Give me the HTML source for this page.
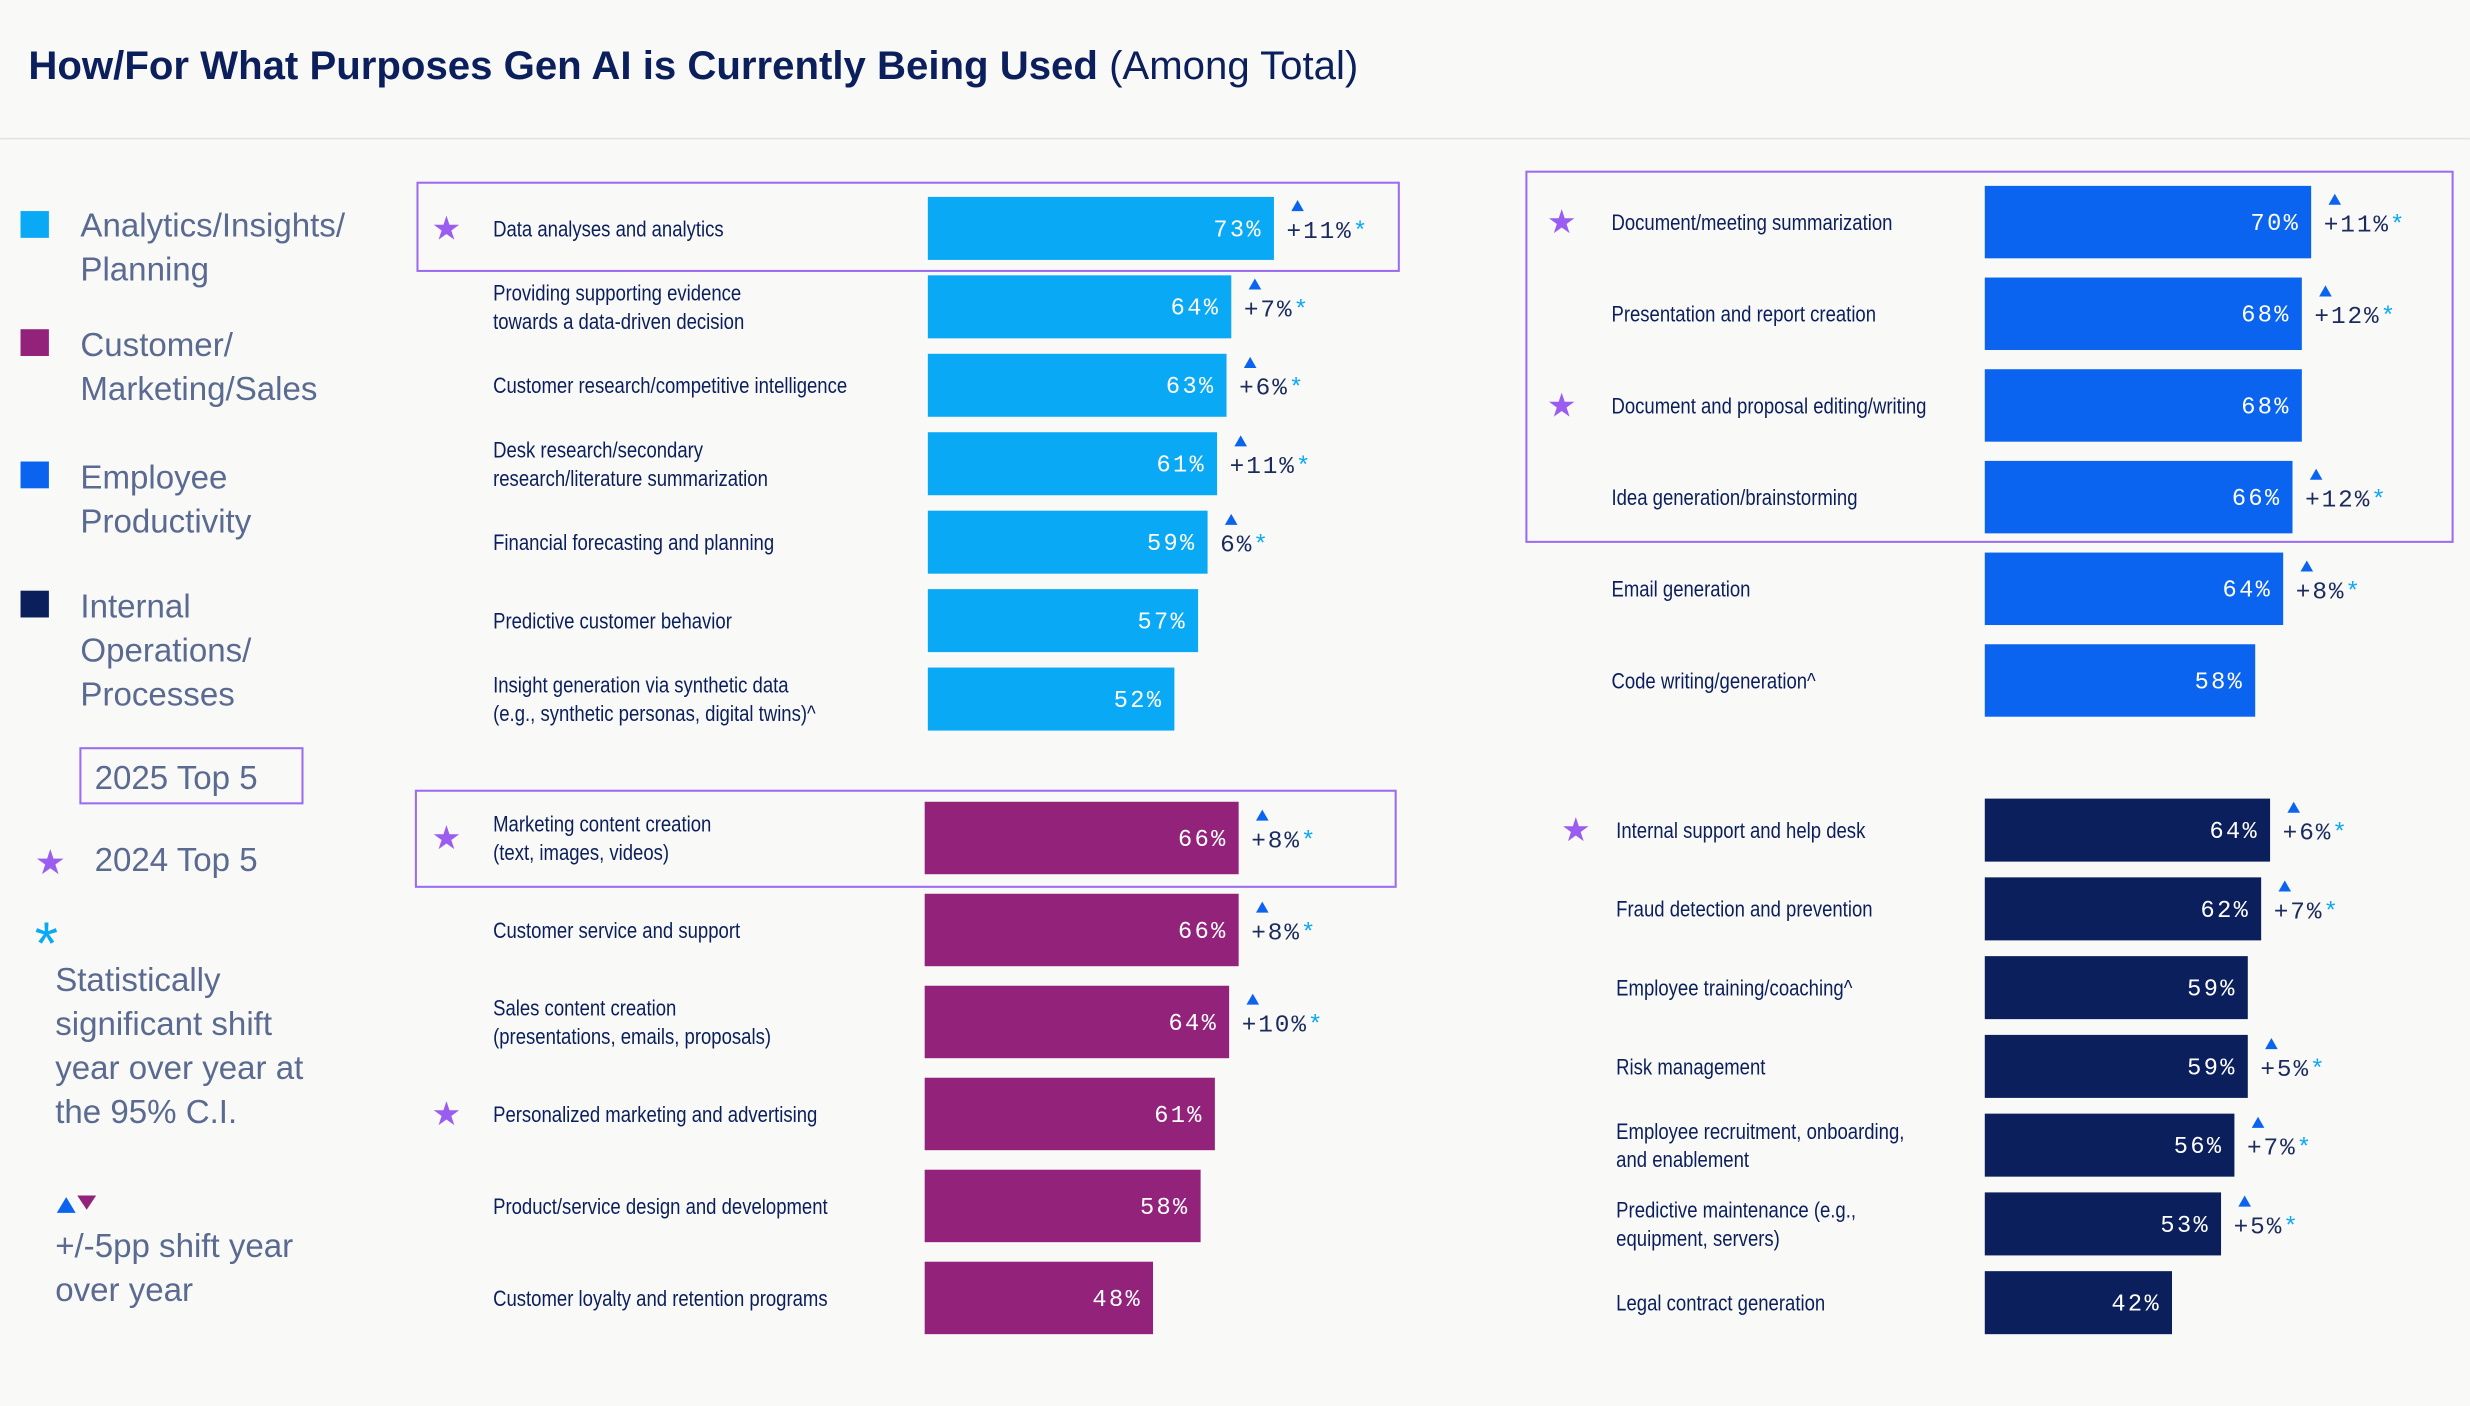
<!DOCTYPE html>
<html><head><meta charset="utf-8"><style>
html,body{margin:0;padding:0;background:#f9f9f7;}
svg{display:block;}
.lbl{font-family:"Liberation Sans",sans-serif;font-size:14px;fill:#0b1f5c;}
.val{font-family:"Liberation Mono",monospace;font-size:15px;fill:#fff;letter-spacing:1.5px;}
.dl{font-family:"Liberation Mono",monospace;font-size:15.5px;fill:#1c2b5e;letter-spacing:1.2px;}
.lg{font-family:"Liberation Sans",sans-serif;font-size:21px;fill:#5a6a90;}
</style></head><body>
<svg id="chart" width="2470" height="1406" viewBox="0 0 1568 892.6" xmlns="http://www.w3.org/2000/svg">
<rect x="0" y="0" width="1568" height="893" fill="#f9f9f7"/>
<text x="18" y="50" font-family="Liberation Sans, sans-serif" font-size="25.5" fill="#0b1f5c"><tspan font-weight="bold">How/For What Purposes Gen AI is Currently Being Used</tspan> (Among Total)</text>
<line x1="0" y1="88" x2="1568" y2="88" stroke="#e2e2e2" stroke-width="1"/>
<g>
<rect x="13" y="134" width="18" height="17" fill="#0aa9f5"/>
<text class="lg" x="51" y="150"><tspan x="51">Analytics/Insights/</tspan><tspan x="51" dy="28">Planning</tspan></text>
<rect x="13" y="209" width="18" height="17" fill="#93237a"/>
<text class="lg" x="51" y="226"><tspan x="51">Customer/</tspan><tspan x="51" dy="28">Marketing/Sales</tspan></text>
<rect x="13" y="293" width="18" height="17" fill="#0a64f0"/>
<text class="lg" x="51" y="310"><tspan x="51">Employee</tspan><tspan x="51" dy="28">Productivity</tspan></text>
<rect x="13" y="375" width="18" height="17" fill="#0b1f5c"/>
<text class="lg" x="51" y="392"><tspan x="51">Internal</tspan><tspan x="51" dy="28">Operations/</tspan><tspan x="51" dy="28">Processes</tspan></text>
<rect x="51" y="475" width="141" height="35" fill="none" stroke="#9b6cf0" stroke-width="1.3"/>
<text class="lg" x="60" y="501">2025 Top 5</text>
<text x="22" y="555" font-size="22" fill="#9b5cf0" font-family="DejaVu Sans, sans-serif">★</text>
<text class="lg" x="60" y="553">2024 Top 5</text>
<text x="22" y="612" font-size="38" fill="#0aa9f5" font-family="Liberation Sans, sans-serif">*</text>
<text class="lg" x="35" y="629"><tspan x="35">Statistically</tspan><tspan x="35" dy="28">significant shift</tspan><tspan x="35" dy="28">year over year at</tspan><tspan x="35" dy="28">the 95% C.I.</tspan></text>
<polygon points="36,770 42,760 48,770" fill="#0a64f0"/>
<polygon points="49,759 61,759 55,768" fill="#93237a"/>
<text class="lg" x="35" y="798"><tspan x="35">+/-5pp shift year</tspan><tspan x="35" dy="28">over year</tspan></text>
</g>
<rect x="265" y="116" width="623" height="56" fill="none" stroke="#9b6cf0" stroke-width="1.3"/>
<rect x="264" y="502" width="622" height="61" fill="none" stroke="#9b6cf0" stroke-width="1.3"/>
<rect x="969" y="109" width="588" height="235" fill="none" stroke="#9b6cf0" stroke-width="1.3"/>
<g id="bars"></g>
</svg>
<script>
const analyticsLabels=[["Data analyses and analytics"],["Providing supporting evidence","towards a data-driven decision"],["Customer research/competitive intelligence"],["Desk research/secondary","research/literature summarization"],["Financial forecasting and planning"],["Predictive customer behavior"],["Insight generation via synthetic data","(e.g., synthetic personas, digital twins)^"]];
const analyticsValues=[73,64,63,61,59,57,52];
const analyticsDeltas=["+11","+7","+6","+11","6","",""];
const analyticsStars=[1,0,0,0,0,0,0];

const marketingLabels=[["Marketing content creation","(text, images, videos)"],["Customer service and support"],["Sales content creation","(presentations, emails, proposals)"],["Personalized marketing and advertising"],["Product/service design and development"],["Customer loyalty and retention programs"]];
const marketingValues=[66,66,64,61,58,48];
const marketingDeltas=["+8","+8","+10","","",""];
const marketingStars=[1,0,0,1,0,0];

const productivityLabels=[["Document/meeting summarization"],["Presentation and report creation"],["Document and proposal editing/writing"],["Idea generation/brainstorming"],["Email generation"],["Code writing/generation^"]];
const productivityValues=[70,68,68,66,64,58];
const productivityDeltas=["+11","+12","","+12","+8",""];
const productivityStars=[1,0,1,0,0,0];

const internalLabels=[["Internal support and help desk"],["Fraud detection and prevention"],["Employee training/coaching^"],["Risk management"],["Employee recruitment, onboarding,","and enablement"],["Predictive maintenance (e.g.,","equipment, servers)"],["Legal contract generation"]];
const internalValues=[64,62,59,59,56,53,42];
const internalDeltas=["+6","+7","","+5","+7","+5",""];
const internalStars=[1,0,0,0,0,0,0];

const NS="http://www.w3.org/2000/svg";
const root=document.getElementById('bars');
const SX=0.84;
function mk(tag,attrs){const e=document.createElementNS(NS,tag);for(const k in attrs)e.setAttribute(k,attrs[k]);return e;}
function panel(name,labels,values,deltas,stars,o){
  const g=mk('g',{});
  
  
  root.appendChild(g);
  const xs=v=>o.x0+v*o.k;
  const ys=i=>o.y0+i*o.step;
  values.forEach((v,i)=>{
    const cy=ys(i);
    const r=mk('rect',{x:o.x0,y:cy-o.h/2,width:xs(v)-o.x0,height:o.h,fill:o.color});
    
    
    g.appendChild(r);
    const t=mk('text',{x:xs(v)-7,y:cy+5,'text-anchor':'end',class:'val'});
    t.textContent=v+'%';
    
    
    g.appendChild(t);
    const L=labels[i];
    const lg=mk('g',{transform:'matrix('+SX+',0,0,1,'+(o.lx*(1-SX))+',0)'});
    const lt=mk('text',{x:o.lx,y:cy+(L.length>1?-4:5),class:'lbl'});
    L.forEach((s,j)=>{const sp=mk('tspan',{x:o.lx,dy:j?18:0});sp.textContent=s;lt.appendChild(sp);});
    
    
    lg.appendChild(lt);
    g.appendChild(lg);
    if(stars[i]){
      const s=mk('text',{x:o.sx,y:cy+7,'font-size':21,fill:'#9b5cf0','font-family':'DejaVu Sans, sans-serif'});
      s.textContent='★';
      
      
      g.appendChild(s);
    }
    if(deltas[i]){
      const dx=xs(v)+8;
      const tri=mk('polygon',{points:(dx+3)+','+(cy-11)+' '+(dx+7)+','+(cy-18)+' '+(dx+11)+','+(cy-11),fill:'#0a64f0'});
      
      
      g.appendChild(tri);
      const d=mk('text',{x:dx,y:cy+6,class:'dl'});
      d.textContent=deltas[i]+'%';
      const a=mk('tspan',{fill:'#0aa9f5'});a.textContent='*';d.appendChild(a);
      
      
      g.appendChild(d);
    }
  });
}
panel('analytics',analyticsLabels,analyticsValues,analyticsDeltas,analyticsStars,{x0:589,k:3.01,y0:145,step:49.8,h:40,color:'#0aa9f5',lx:313,sx:274});
panel('marketing',marketingLabels,marketingValues,marketingDeltas,marketingStars,{x0:587,k:3.02,y0:532,step:58.4,h:46,color:'#93237a',lx:313,sx:274});
panel('productivity',productivityLabels,productivityValues,productivityDeltas,productivityStars,{x0:1260,k:2.96,y0:141,step:58.2,h:46,color:'#0a64f0',lx:1023,sx:982});
panel('internal',internalLabels,internalValues,internalDeltas,internalStars,{x0:1260,k:2.83,y0:527,step:50,h:40,color:'#0b1f5c',lx:1026,sx:991});
</script>
</body></html>
